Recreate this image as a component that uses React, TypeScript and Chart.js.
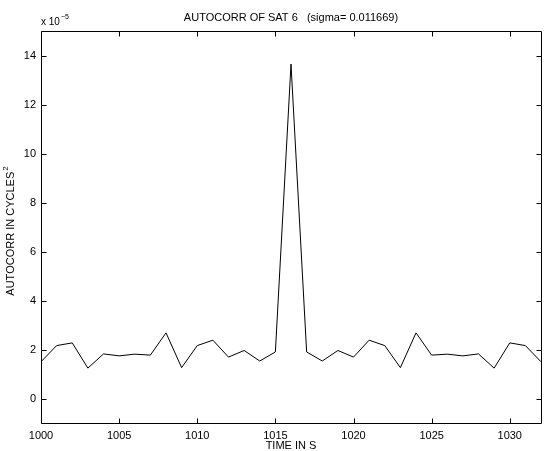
import React, { useEffect, useRef } from "react";
import { Chart, registerables } from "chart.js";

Chart.register(...registerables);

const times: number[] = [
  1000, 1001, 1002, 1003, 1004, 1005, 1006, 1007, 1008, 1009, 1010,
  1011, 1012, 1013, 1014, 1015, 1016, 1017, 1018, 1019, 1020, 1021,
  1022, 1023, 1024, 1025, 1026, 1027, 1028, 1029, 1030, 1031, 1032,
];
// autocorrelation in units of 1e-5 cycles^2
const autocorr: number[] = [
  1.5, 2.16, 2.27, 1.24, 1.82, 1.74, 1.81, 1.77, 2.68, 1.26, 2.16,
  2.38, 1.69, 1.96, 1.53, 1.9, 13.65, 1.9, 1.53, 1.96, 1.69, 2.38,
  2.16, 1.26, 2.68, 1.77, 1.81, 1.74, 1.82, 1.24, 2.27, 2.16, 1.5,
];
const xTicks: number[] = [1000, 1005, 1010, 1015, 1020, 1025, 1030];
const yTicks: number[] = [0, 2, 4, 6, 8, 10, 12, 14];
const titleText = "AUTOCORR OF SAT 6   (sigma= 0.011669)";
const xTitle = "TIME IN S";
const yTitle = "AUTOCORR IN CYCLES";

const FONT = "'Liberation Sans', Arial, Helvetica, sans-serif";

const framePlugin = {
  id: "matlabFrame",
  afterDraw(chart: any) {
    const { ctx, chartArea } = chart;
    const { left, right, top, bottom } = chartArea;
    const xs = chart.scales.x;
    const ys = chart.scales.y;
    ctx.save();
    ctx.strokeStyle = "#000";
    ctx.lineWidth = 1;
    ctx.beginPath();
    const L = Math.round(left) + 0.5;
    const R = Math.round(right) + 0.5;
    const T = Math.round(top) + 0.5;
    const B = Math.round(bottom) + 0.5;
    ctx.rect(L, T, R - L, B - T);
    const tl = 5;
    xTicks.forEach((v) => {
      const px = Math.round(xs.getPixelForValue(v)) + 0.5;
      ctx.moveTo(px, B);
      ctx.lineTo(px, B - tl);
      ctx.moveTo(px, T);
      ctx.lineTo(px, T + tl);
    });
    yTicks.forEach((v) => {
      const py = Math.round(ys.getPixelForValue(v)) + 0.5;
      ctx.moveTo(L, py);
      ctx.lineTo(L + tl, py);
      ctx.moveTo(R, py);
      ctx.lineTo(R - tl, py);
    });
    ctx.stroke();

    ctx.fillStyle = "#000";
    // title
    ctx.font = `11px ${FONT}`;
    ctx.textAlign = "center";
    ctx.textBaseline = "alphabetic";
    ctx.fillText(titleText, (left + right) / 2, 21);
    // x title
    ctx.fillText(xTitle, (left + right) / 2, 449);
    // exponent label
    ctx.textAlign = "left";
    ctx.font = `10px ${FONT}`;
    ctx.fillText("x 10", left, 25);
    const w = ctx.measureText("x 10").width;
    ctx.font = `7px ${FONT}`;
    ctx.fillText("\u22125", left + w + 1, 19);
    // y title rotated
    ctx.save();
    ctx.translate(14, (top + bottom) / 2 + 4);
    ctx.rotate(-Math.PI / 2);
    ctx.font = `11px ${FONT}`;
    ctx.textBaseline = "alphabetic";
    const yw = ctx.measureText(yTitle).width;
    ctx.font = `8px ${FONT}`;
    const sw = ctx.measureText("2").width;
    const total = yw + sw + 1;
    ctx.font = `11px ${FONT}`;
    ctx.textAlign = "left";
    ctx.fillText(yTitle, -total / 2, 0);
    ctx.font = `8px ${FONT}`;
    ctx.fillText("2", -total / 2 + yw + 1, -6);
    ctx.restore();
    ctx.restore();
  },
};

export default function App() {
  const ref = useRef<HTMLCanvasElement | null>(null);
  useEffect(() => {
    if (!ref.current) return;
    const chart = new Chart(ref.current, {
      type: "line",
      data: {
        datasets: [
          {
            data: times.map((t, i) => ({ x: t, y: autocorr[i] })),
            borderColor: "#000",
            borderWidth: 1,
            pointRadius: 0,
            tension: 0,
            fill: false,
          },
        ],
      },
      options: {
        animation: false,
        responsive: false,
        maintainAspectRatio: false,
        events: [],
        layout: { padding: { top: 31, right: 3, left: 0, bottom: 0 } },
        plugins: {
          legend: { display: false },
          tooltip: { enabled: false },
          title: { display: false },
        },
        scales: {
          x: {
            type: "linear",
            min: 1000,
            max: 1032,
            grid: { display: false, drawTicks: false },
            border: { display: false },
            afterBuildTicks: (s: any) => {
              s.ticks = xTicks.map((v) => ({ value: v }));
            },
            afterFit: (s: any) => {
              s.height = 28;
            },
            ticks: {
              color: "#000",
              font: { family: FONT, size: 11 },
              padding: 6,
              maxRotation: 0,
              callback: (v: any) => String(v),
            },
          },
          y: {
            type: "linear",
            min: -1,
            max: 15,
            grid: { display: false, drawTicks: false },
            border: { display: false },
            afterBuildTicks: (s: any) => {
              s.ticks = yTicks.map((v) => ({ value: v }));
            },
            afterFit: (s: any) => {
              s.width = 41;
            },
            ticks: {
              color: "#000",
              font: { family: FONT, size: 11 },
              padding: 5,
              callback: (v: any) => String(v),
            },
          },
        },
      },
      plugins: [framePlugin],
    });
    return () => chart.destroy();
  }, []);
  return (
    <div style={{ position: "absolute", left: 0, top: 0, width: 544, height: 451, background: "#fff" }}>
      <canvas ref={ref} width={544} height={451} style={{ display: "block", width: 544, height: 451 }} />
    </div>
  );
}
